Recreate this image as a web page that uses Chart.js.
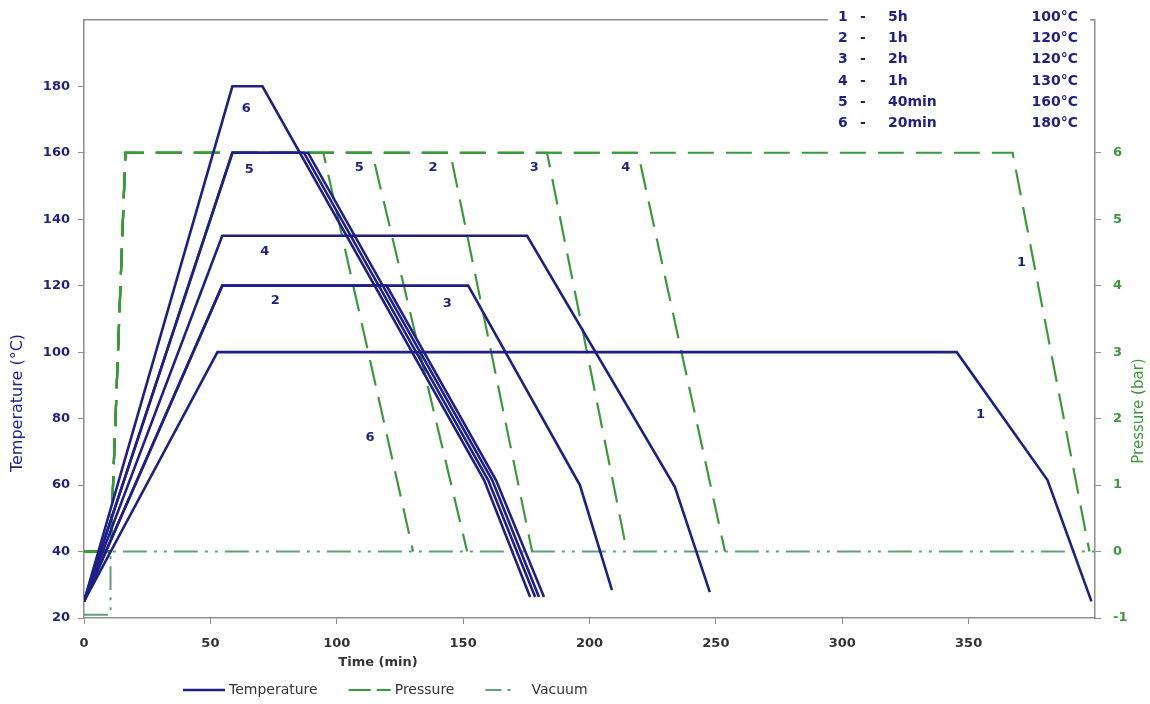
<!DOCTYPE html>
<html>
<head>
<meta charset="utf-8">
<title>Cure cycles</title>
<script src="https://cdn.jsdelivr.net/npm/chart.js@4.4.1/dist/chart.umd.min.js"></script>
<style>
  html, body { margin: 0; padding: 0; background: #fff; }
</style>
</head>
<body>
<canvas id="chart" width="1150" height="704"></canvas>
<script>
// temperature profiles, corner points: time (min) / temperature (°C)
const cycle1Time = [0, 52.8, 345.3, 381.2, 398.6];
const cycle1Temp = [25, 100, 100, 61.5, 25];
const cycle2Time = [0, 54.7, 119.7, 163, 182];
const cycle2Temp = [25, 120, 120, 61.5, 26.3];
const cycle3Time = [0, 54.7, 152, 196.2, 208.9];
const cycle3Temp = [25, 120, 120, 60, 28.4];
const cycle4Time = [0, 54.7, 175.3, 233.8, 247.6];
const cycle4Temp = [25, 135, 135, 59.4, 27.8];
const cycle5Time = [0, 58.7, 87, 159.9, 178.5];
const cycle5Temp = [25, 160, 160, 61.5, 26.3];
const cycle5bTime = [0, 58.7, 88.6, 161.5, 180];
const cycle5bTemp = [25, 160, 160, 61.5, 26.3];
const cycle6Time = [0, 58.7, 70.6, 158.3, 176.5];
const cycle6Temp = [25, 180, 180, 61.5, 26.3];

// pressure (bar): shared ramp, then venting per cycle 1..6
const pressRampTime = [0, 10.5, 16.4];
const pressLevels = [0, 0, 6, 6, 0];
const ventStart = [367.4, 144.9, 183.2, 219.2, 114, 94.7];
const ventEnd = [397.8, 177.3, 214.8, 253.6, 151.6, 130.2];

// vacuum (bar)
const vacTime = [0, 10.5, 10.5, 400];
const vacLevel = [-0.95, -0.95, 0, 0];

// cycle table in the corner
const tableNo = ['1', '2', '3', '4', '5', '6'];
const tableHold = ['5h', '1h', '2h', '1h', '40min', '20min'];
const tableTemp = ['100°C', '120°C', '120°C', '130°C', '160°C', '180°C'];

// curve numbers: temperature curves (°C) and pressure curves (bar)
const tempTagText = ['6', '5', '4', '2', '3', '1'];
const tempTagTime = [64.2, 65.4, 71.5, 75.7, 143.7, 354.7];
const tempTagTemp = [173.3, 155, 130.1, 115.6, 114.7, 81.1];
const pressTagText = ['5', '2', '3', '4', '6', '1'];
const pressTagTime = [108.9, 138.1, 178.1, 214.4, 113.2, 370.9];
const pressTagBar = [5.77, 5.77, 5.77, 5.77, 1.72, 4.34];

const tempTicks = [20, 40, 60, 80, 100, 120, 140, 160, 180];
const pressTicks = [-1, 0, 1, 2, 3, 4, 5, 6];
const timeTicks = [0, 50, 100, 150, 200, 250, 300, 350];

const navy = '#1f1f8a';
const green = '#3a9a3a';
const vacColor = '#5e9f7c';
const axisGray = '#8e8e8e';
const FONT = "'DejaVu Sans', Verdana, sans-serif";

const pts = (xs, ys) => xs.map((x, i) => ({ x, y: ys[i] }));

const tempCurves = [
  [cycle1Time, cycle1Temp], [cycle2Time, cycle2Temp], [cycle3Time, cycle3Temp],
  [cycle4Time, cycle4Temp], [cycle5Time, cycle5Temp], [cycle5bTime, cycle5bTemp],
  [cycle6Time, cycle6Temp]
];

const datasets = [];
tempCurves.forEach(([xs, ys]) => {
  datasets.push({
    label: 'Temperature', yAxisID: 'y',
    data: pts(xs, ys), borderColor: navy, borderWidth: 2.6
  });
});
ventStart.forEach((vs, i) => {
  datasets.push({
    label: 'Pressure', yAxisID: 'y2',
    data: pts([...pressRampTime, vs, ventEnd[i]], pressLevels),
    borderColor: green, borderWidth: 2.2, borderDash: [26, 12]
  });
});
datasets.push({
  label: 'Vacuum', yAxisID: 'y2',
  data: pts(vacTime, vacLevel), borderColor: vacColor, borderWidth: 2,
  borderDash: [24, 7, 3, 7, 3, 7]
});

// frame line, cycle table, curve numbers, axis titles and legend
const decorations = {
  id: 'decorations',
  afterDraw(chart) {
    const { ctx, chartArea: a, scales } = chart;
    const x = scales.x, y = scales.y, y2 = scales.y2;
    ctx.save();

    // top edge of the plot area
    ctx.strokeStyle = axisGray;
    ctx.lineWidth = 1.5;
    ctx.beginPath();
    ctx.moveTo(a.left, a.top);
    ctx.lineTo(a.right, a.top);
    ctx.stroke();

    // table box
    ctx.fillStyle = '#fff';
    ctx.fillRect(828, 0, 262, 138);
    ctx.fillStyle = navy;
    ctx.font = `bold 14px ${FONT}`;
    ctx.textBaseline = 'middle';
    tableNo.forEach((n, i) => {
      const ry = 17 + i * 21.3;
      ctx.textAlign = 'left';
      ctx.fillText(n, 838, ry);
      ctx.fillText('-', 860, ry);
      ctx.fillText(tableHold[i], 888, ry);
      ctx.textAlign = 'right';
      ctx.fillText(tableTemp[i], 1078, ry);
    });

    // curve numbers
    ctx.font = `bold 13px ${FONT}`;
    ctx.textAlign = 'center';
    tempTagText.forEach((t, i) => {
      ctx.fillText(t, x.getPixelForValue(tempTagTime[i]), y.getPixelForValue(tempTagTemp[i]));
    });
    pressTagText.forEach((t, i) => {
      ctx.fillText(t, x.getPixelForValue(pressTagTime[i]), y2.getPixelForValue(pressTagBar[i]));
    });

    // axis titles
    ctx.font = `16px ${FONT}`;
    ctx.fillStyle = navy;
    ctx.save();
    ctx.translate(18, 403);
    ctx.rotate(-Math.PI / 2);
    ctx.fillText('Temperature (°C)', 0, 0);
    ctx.restore();
    ctx.fillStyle = green;
    ctx.font = `15px ${FONT}`;
    ctx.save();
    ctx.translate(1139, 411);
    ctx.rotate(-Math.PI / 2);
    ctx.fillText('Pressure (bar)', 0, 0);
    ctx.restore();
    ctx.fillStyle = '#333';
    ctx.font = `bold 13px ${FONT}`;
    ctx.fillText('Time (min)', 378, 663);

    // legend row
    const items = [
      { text: 'Temperature', color: navy, width: 2.6, dash: [] },
      { text: 'Pressure', color: green, width: 2.2, dash: [22, 6] },
      { text: 'Vacuum', color: vacColor, width: 2, dash: [16, 6, 3, 20] }
    ];
    ctx.font = `14px ${FONT}`;
    ctx.textAlign = 'left';
    let lx = 183;
    const ly = 690;
    items.forEach(it => {
      ctx.strokeStyle = it.color;
      ctx.lineWidth = it.width;
      ctx.setLineDash(it.dash);
      ctx.beginPath();
      ctx.moveTo(lx, ly);
      ctx.lineTo(lx + 42, ly);
      ctx.stroke();
      ctx.setLineDash([]);
      ctx.fillStyle = '#333';
      ctx.fillText(it.text, lx + 46, ly);
      lx += 46 + ctx.measureText(it.text).width + 31;
    });
    ctx.restore();
  }
};

const hidden = 'rgba(0,0,0,0)';

new Chart(document.getElementById('chart'), {
  type: 'line',
  data: { datasets },
  options: {
    responsive: false,
    animation: false,
    layout: { padding: { top: 19.5, left: 0, right: 0, bottom: 0 } },
    elements: { point: { radius: 0 }, line: { tension: 0 } },
    plugins: { legend: { display: false }, tooltip: { enabled: false } },
    scales: {
      x: {
        type: 'linear', min: 0, max: 400,
        afterBuildTicks: s => { s.ticks = [...timeTicks, 400].map(v => ({ value: v })); },
        ticks: {
          color: '#333', padding: 12, maxRotation: 0,
          font: { family: FONT, size: 13, weight: 'bold' },
          callback: v => timeTicks.includes(v) ? String(v) : ''
        },
        grid: { drawOnChartArea: false, tickLength: 6, tickColor: c => timeTicks.includes(c.tick.value) ? axisGray : hidden },
        border: { color: axisGray, width: 1.5 },
        afterFit: s => { s.height = 86; }
      },
      y: {
        type: 'linear', position: 'left', min: 20, max: 200,
        afterBuildTicks: s => { s.ticks = [...tempTicks, 200].map(v => ({ value: v })); },
        ticks: {
          color: navy, padding: 8,
          font: { family: FONT, size: 13, weight: 'bold' },
          callback: v => tempTicks.includes(v) ? String(v) : ''
        },
        grid: { drawOnChartArea: false, tickLength: 6, tickColor: c => tempTicks.includes(c.tick.value) ? axisGray : hidden },
        border: { color: axisGray, width: 1.5 },
        afterFit: s => { s.width = 84; }
      },
      y2: {
        type: 'linear', position: 'right', min: -1, max: 8,
        afterBuildTicks: s => { s.ticks = [...pressTicks, 8].map(v => ({ value: v })); },
        ticks: {
          color: green, padding: 12,
          font: { family: FONT, size: 13, weight: 'bold' },
          callback: v => pressTicks.includes(v) ? String(v) : ''
        },
        grid: { drawOnChartArea: false, tickLength: 6, tickColor: c => pressTicks.includes(c.tick.value) ? axisGray : hidden },
        border: { color: axisGray, width: 1.5 },
        afterFit: s => { s.width = 55; }
      }
    }
  },
  plugins: [decorations]
});
</script>
</body>
</html>
